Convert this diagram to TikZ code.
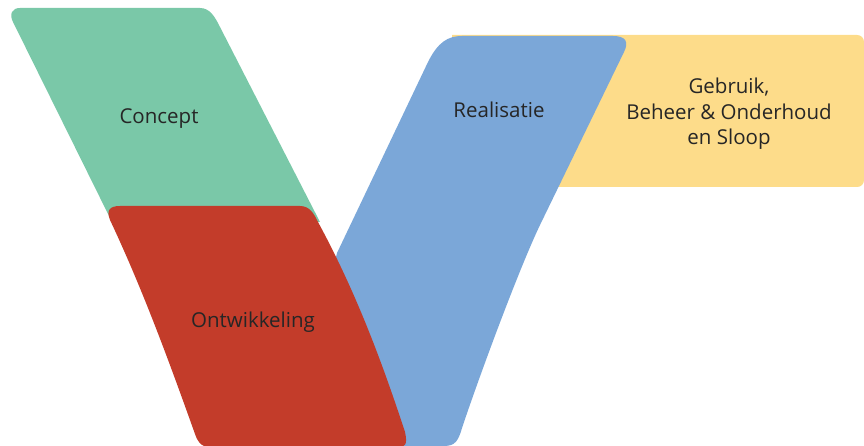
\documentclass[tikz,border=0pt]{standalone}
\usepackage{fontspec}
\setmainfont{Open Sans}
\definecolor{conceptgreen}{RGB}{122,200,168}
\definecolor{devred}{RGB}{195,60,42}
\definecolor{realblue}{RGB}{123,167,216}
\definecolor{useyellow}{RGB}{253,220,138}
\definecolor{labelgray}{RGB}{38,38,38}
\begin{document}
\begin{tikzpicture}[x=1pt,y=-1pt,
  phase/.style={text=labelgray,font=\fontsize{20.5}{25.5}\selectfont,align=center}]
\useasboundingbox (0,0) rectangle (864,446);
\clip (0,0) rectangle (864,446);

% Gebruik, Beheer & Onderhoud en Sloop
\fill[useyellow] (452,35) -- (857,35) .. controls (861,35) and (864,38) .. (864,42)
  -- (864,180) .. controls (864,184) and (861,187) .. (857,187) -- (452,187) -- cycle;

% Realisatie
\fill[realblue] (462,36) -- (613,36) .. controls (626,36) and (629,42) .. (624,52)
  -- (540,225) .. controls (518,271) and (478,380) .. (462,428)
  .. controls (457,446) and (452,446) .. (440,446) -- (290,446) -- (337,253)
  -- (428,62) .. controls (438,42) and (448,36) .. (462,36) -- cycle;

% Concept
\fill[conceptgreen] (20,8) -- (200,8) .. controls (210,8) and (215,17) .. (220,27)
  -- (320,222) -- (112,222) -- (13,22) .. controls (9,14) and (12,8) .. (20,8) -- cycle;

% Ontwikkeling
\fill[devred] (120,206) -- (300,206) .. controls (310,206) and (314,214) .. (318,222)
  .. controls (356,292) and (382,362) .. (405,432)
  .. controls (408,446) and (405,447) .. (395,447) -- (210,447)
  .. controls (200,447) and (197,440) .. (195,434)
  .. controls (170,364) and (143,290) .. (110,220)
  .. controls (106,210) and (110,206) .. (120,206) -- cycle;

\node[phase] (concept) at (159,119) {Concept};
\node[phase] (ontwikkeling) at (253,322) {Ontwikkeling};
\node[phase] (realisatie) at (499,110) {Realisatie};
\node[phase] (gebruik) at (729,114) {Gebruik,\\Beheer \& Onderhoud\\en Sloop};
\end{tikzpicture}
\end{document}
